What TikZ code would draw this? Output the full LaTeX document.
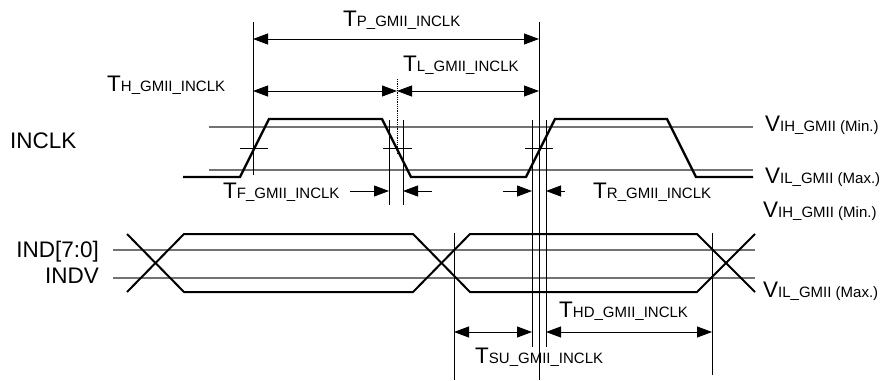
\documentclass[tikz,border=0pt]{standalone}
\usepackage{fontspec}
\setmainfont{Liberation Sans}
\usetikzlibrary{arrows.meta}
\newcommand{\tlab}[2]{{\fontsize{22.5}{25}\selectfont #1}{\fontsize{15}{17}\selectfont #2}}
\begin{document}
\begin{tikzpicture}[x=1pt,y=-1pt,
  sig/.style={line width=2.4pt, line join=miter},
  dsig/.style={line width=2pt, line join=miter},
  thr/.style={black!55, line width=1.1pt},
  vl/.style={line width=0.8pt},
  tick/.style={line width=0.8pt},
  dimline/.style={line width=0.8pt, {Triangle[length=15pt,width=11pt]}-{Triangle[length=15pt,width=11pt]}},
  onearrow/.style={line width=0.8pt, -{Triangle[length=15pt,width=11pt]}},
  lab/.style={anchor=base west, inner sep=0pt},
  rlab/.style={anchor=base east, inner sep=0pt, font=\fontsize{22.5}{25}\selectfont}]
\useasboundingbox (0,0) rectangle (885,380);
% threshold lines
\coordinate (vihA) at (209,127); \coordinate (vihB) at (753,127);
\coordinate (vilA) at (209,170); \coordinate (vilB) at (753,170);
\draw[thr] (vihA) -- (vihB);
\draw[thr] (vilA) -- (vilB);
\coordinate (dhA) at (113,250); \coordinate (dhB) at (755,250);
\coordinate (dlA) at (113,278); \coordinate (dlB) at (755,278);
\draw[thr] (dhA) -- (dhB);
\draw[thr] (dlA) -- (dlB);
% clock
\draw[sig] (183,177) -- (240,177) -- (269,119) -- (382,119) -- (411,177) -- (526,177) -- (555,119) -- (667,119) -- (696,177) -- (753,177);
% data
\draw[dsig] (127,234) -- (184,292) -- (413,292) -- (470,234) -- (697,234) -- (755,292);
\draw[dsig] (127,292) -- (184,234) -- (413,234) -- (470,292) -- (697,292) -- (755,234);
% vertical reference lines
\coordinate (r1t) at (253,22);  \coordinate (r1b) at (253,175);
\coordinate (r2t) at (539,22);  \coordinate (r2b) at (539,380);
\coordinate (f0t) at (397,79);  \coordinate (f0b) at (397,153);
\coordinate (f1t) at (389,120); \coordinate (f1b) at (389,205);
\coordinate (f2t) at (403,120); \coordinate (f2b) at (403,205);
\coordinate (s1t) at (532,120); \coordinate (s1b) at (532,347);
\coordinate (s2t) at (546,120); \coordinate (s2b) at (546,347);
\coordinate (d1t) at (454,233); \coordinate (d1b) at (454,380);
\coordinate (d2t) at (712,233); \coordinate (d2b) at (712,375);
\draw[vl] (r1t) -- (r1b);
\draw[vl] (r2t) -- (r2b);
\draw[vl, densely dotted] (f0t) -- (f0b);
\draw[vl] (f1t) -- (f1b);
\draw[vl] (f2t) -- (f2b);
\draw[vl] (s1t) -- (s1b);
\draw[vl] (s2t) -- (s2b);
\draw[vl] (d1t) -- (d1b);
\draw[vl] (d2t) -- (d2b);
% crosses at mid level
\draw[tick] (240,148) -- (268,148);
\draw[tick] (383,148) -- (412,148);
\draw[tick] (525,148) -- (553,148);
% dimension arrows
\coordinate (tpL) at (253,39);  \coordinate (tpR) at (539,39);
\coordinate (thL) at (253,91);  \coordinate (thR) at (397,91);
\coordinate (tlR) at (539,91);
\draw[dimline] (tpL) -- (tpR);
\draw[dimline] (thL) -- (thR);
\draw[dimline] (thR) -- (tlR);
\coordinate (tfa) at (350,191); \coordinate (tfb) at (389,191);
\coordinate (tfc) at (432,191); \coordinate (tfd) at (403,191);
\draw[onearrow] (tfa) -- (tfb);
\draw[onearrow] (tfc) -- (tfd);
\coordinate (tra) at (503,191); \coordinate (trb) at (532,191);
\coordinate (trc) at (565,191); \coordinate (trd) at (546,191);
\draw[onearrow] (tra) -- (trb);
\draw[onearrow] (trc) -- (trd);
\coordinate (suL) at (454,332); \coordinate (suR) at (532,332);
\coordinate (hdL) at (546,332); \coordinate (hdR) at (712,332);
\draw[dimline] (suL) -- (suR);
\draw[dimline] (hdL) -- (hdR);
% labels
\node[lab] (tp) at (343,27) {\tlab{T}{P\_GMII\_INCLK}};
\node[lab] (tl) at (403,71) {\tlab{T}{L\_GMII\_INCLK}};
\node[lab] (th) at (107,91) {\tlab{T}{H\_GMII\_INCLK}};
\node[lab] (tf) at (223,198) {\tlab{T}{F\_GMII\_INCLK}};
\node[lab] (tr) at (593,198) {\tlab{T}{R\_GMII\_INCLK}};
\node[lab] (thd) at (559,317) {\tlab{T}{HD\_GMII\_INCLK}};
\node[lab] (tsu) at (475,363) {\tlab{T}{SU\_GMII\_INCLK}};
\node[lab] (vih1) at (765,131) {\tlab{V}{IH\_GMII (Min.)}};
\node[lab] (vil1) at (765,183) {\tlab{V}{IL\_GMII (Max.)}};
\node[lab] (vih2) at (763,217) {\tlab{V}{IH\_GMII (Min.)}};
\node[lab] (vil2) at (763,297) {\tlab{V}{IL\_GMII (Max.)}};
\node[lab, font=\fontsize{22.5}{25}\selectfont] (inclk) at (10,148) {INCLK};
\node[rlab] (ind) at (99,257) {IND[7:0]};
\node[rlab] (indv) at (99,283) {INDV};
\end{tikzpicture}
\end{document}
